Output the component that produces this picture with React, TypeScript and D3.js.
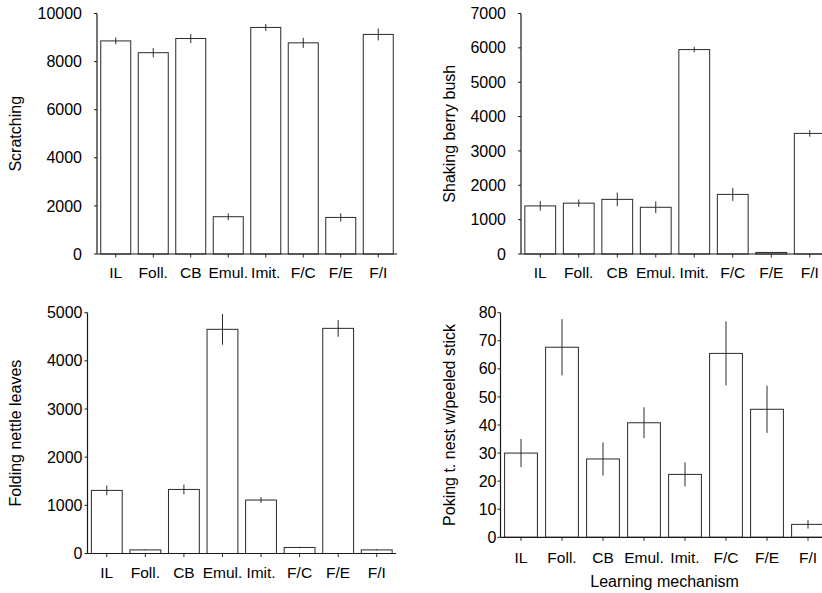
import React from 'react';
import * as d3 from 'd3';

const categories = ['IL', 'Foll.', 'CB', 'Emul.', 'Imit.', 'F/C', 'F/E', 'F/I'];

const scratching = [8860, 8370, 8960, 1550, 9420, 8780, 1520, 9130];
const scratchingErr = [140, 190, 190, 140, 140, 210, 170, 250];
const scratchingTicks = [0, 2000, 4000, 6000, 8000, 10000];

const shaking = [1400, 1480, 1590, 1360, 5950, 1735, 45, 3510];
const shakingErr = [140, 105, 200, 170, 80, 190, 15, 95];
const shakingTicks = [0, 1000, 2000, 3000, 4000, 5000, 6000, 7000];

const folding = [1310, 75, 1330, 4655, 1110, 125, 4675, 75];
const foldingErr = [100, 10, 100, 320, 60, 15, 175, 10];
const foldingTicks = [0, 1000, 2000, 3000, 4000, 5000];

const poking = [30.0, 67.7, 27.9, 40.8, 22.4, 65.5, 45.6, 4.6];
const pokingErr = [5, 10, 5.9, 5.5, 4.3, 11.4, 8.4, 1.5];
const pokingTicks = [0, 10, 20, 30, 40, 50, 60, 70, 80];

const FONT = '"Liberation Sans", Arial, sans-serif';

type PanelProps = {
  values: number[];
  errors: number[];
  ticks: number[];
  title: string;
  left: number;   // y axis x position
  right: number;  // end of band range
  top: number;    // y of max tick
  bottom: number; // y of zero
  labelGap: number;
  titleX: number;
  catBaseline: number;
  xTitle?: string;
};

const Panel = ({ values, errors, ticks, title, left, right, top, bottom, labelGap, titleX, catBaseline, xTitle }: PanelProps) => {
  const x = d3.scaleBand<string>().domain(categories).range([left, right]).paddingInner(0.2).paddingOuter(0.1);
  const y = d3.scaleLinear().domain([0, ticks[ticks.length - 1]]).range([bottom, top]);
  const midY = (top + bottom) / 2;
  return (
    <g fontFamily={FONT} fill="#000">
      {values.map((v, i) => {
        const c = categories[i];
        const cx = (x(c) ?? 0) + x.bandwidth() / 2;
        return (
          <g key={c}>
            <rect x={x(c)} y={y(v)} width={x.bandwidth()} height={bottom - y(v)} fill="#fff" stroke="#2a2a2a" strokeWidth={1} />
            <line x1={cx} x2={cx} y1={y(v + errors[i])} y2={y(Math.max(0, v - errors[i]))} stroke="#2a2a2a" strokeWidth={1} />
            <line x1={cx} x2={cx} y1={bottom} y2={bottom + 3.5} stroke="#2a2a2a" strokeWidth={1} />
            <text x={cx} y={catBaseline} textAnchor="middle" fontSize={15.5}>{c}</text>
          </g>
        );
      })}
      <line x1={left} x2={left} y1={top} y2={bottom} stroke="#1a1a1a" strokeWidth={1.2} />
      <line x1={left} x2={right} y1={bottom} y2={bottom} stroke="#1a1a1a" strokeWidth={1.2} />
      {ticks.map(t => (
        <g key={t}>
          <line x1={left - 3} x2={left} y1={y(t)} y2={y(t)} stroke="#1a1a1a" strokeWidth={1} />
          <text x={left - labelGap} y={y(t)} dy="0.35em" textAnchor="end" fontSize={16}>{t}</text>
        </g>
      ))}
      <text transform={`translate(${titleX},${midY}) rotate(-90)`} textAnchor="middle" dy="0.35em" fontSize={16}>{title}</text>
      {xTitle && (
        <text x={(left + right) / 2} y={587} textAnchor="middle" fontSize={16}>{xTitle}</text>
      )}
    </g>
  );
};

export default function App() {
  return (
    <svg width={822} height={593} style={{ position: 'fixed', left: 0, top: 0, background: '#fff' }}>
      <rect width={822} height={593} fill="#fff" />
      <Panel values={scratching} errors={scratchingErr} ticks={scratchingTicks} title="Scratching"
        left={97} right={397} top={13.5} bottom={254} labelGap={15} titleX={15} catBaseline={278} />
      <Panel values={shaking} errors={shakingErr} ticks={shakingTicks} title="Shaking berry bush"
        left={521} right={829} top={13.5} bottom={254} labelGap={15} titleX={449} catBaseline={278} />
      <Panel values={folding} errors={foldingErr} ticks={foldingTicks} title="Folding nettle leaves"
        left={87.5} right={396} top={312.7} bottom={553.5} labelGap={5} titleX={15} catBaseline={578} />
      <Panel values={poking} errors={pokingErr} ticks={pokingTicks} title="Poking t. nest w/peeled stick"
        left={500.5} right={828.5} top={312.7} bottom={537.3} labelGap={4} titleX={449} catBaseline={563} xTitle="Learning mechanism" />
    </svg>
  );
}
